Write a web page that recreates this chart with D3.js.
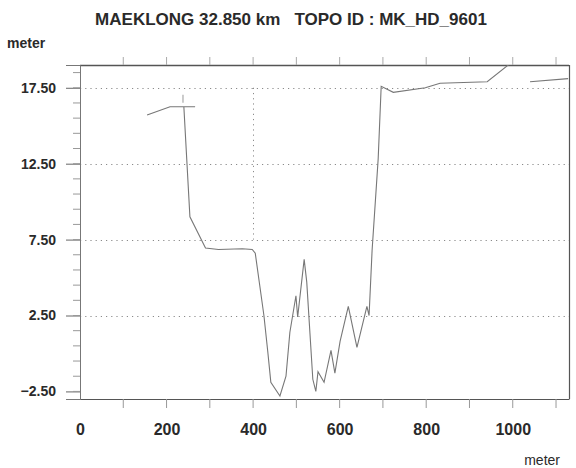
<!DOCTYPE html>
<html>
<head>
<meta charset="utf-8">
<script src="https://cdn.jsdelivr.net/npm/d3@7"></script>
<style>
  html, body { margin: 0; padding: 0; background: #fff; }
  svg { display: block; }
  text { font-family: "Liberation Sans", Arial, sans-serif; fill: #2a2a2a; }
</style>
</head>
<body>
<svg id="chart" width="576" height="468"></svg>
<script>
// ---- data ----
const titleText = "MAEKLONG 32.850 km   TOPO ID : MK_HD_9601";
const yAxisTitle = "meter";
const xAxisTitle = "meter";

// distance along section (m)
const distance = [155, 208, 266, 240, 254, 290, 320, 375, 398, 405, 425, 434, 441, 462, 476, 485, 499, 503,
  518, 524, 538, 545, 550, 564, 580, 589, 601, 620, 640, 663, 668, 675, 689, 696, 724, 798, 832, 941, 994,
  1015, 1040, 1128];
// bed elevation (m); null = gap in the survey line
const elevation = [15.7, 16.25, 16.25, 16.25, 9.0, 6.95, 6.85, 6.9, 6.85, 6.6, 2.5, 0.1, -1.9, -2.8, -1.5, 1.4, 3.8, 2.4,
  6.2, 4.7, -1.7, -2.5, -1.2, -1.9, 0.2, -1.3, 0.8, 3.1, 0.4, 3.1, 2.5, 6.8, 12.8, 17.6, 17.2, 17.5, 17.8, 17.9, 19.1,
  null, 17.9, 18.1];

const xLabelTicks = [0, 200, 400, 600, 800, 1000];
const xMinorTicks = [100, 200, 300, 400, 500, 600, 700, 800, 900, 1000, 1100];
const yLabelTicks = [-2.5, 2.5, 7.5, 12.5, 17.5];
const yMinorTicks = [-2.5, -1.5, -0.5, 0.5, 1.5, 2.5, 3.5, 4.5, 5.5, 6.5, 7.5, 8.5, 9.5, 10.5, 11.5, 12.5,
  13.5, 14.5, 15.5, 16.5, 17.5, 18.5];

// ---- layout ----
const svg = d3.select("#chart");
const L = 80, R = 569, T = 65, B = 399;
const x = d3.scaleLinear().domain([0, 1130]).range([L, R]);
const y = d3.scaleLinear().domain([-3, 19]).range([B, T]);

// grid (dotted)
const grid = svg.append("g").attr("stroke", "#8a8a8a").attr("stroke-width", 1)
  .attr("stroke-dasharray", "1.2,4");
grid.selectAll("line.h").data(yLabelTicks.filter(d => d > -2.5)).join("line")
  .attr("x1", L).attr("x2", R).attr("y1", d => Math.round(y(d)) + 0.5).attr("y2", d => Math.round(y(d)) + 0.5);
grid.selectAll("line.v").data([400]).join("line")
  .attr("x1", d => Math.round(x(d)) + 0.5).attr("x2", d => Math.round(x(d)) + 0.5)
  .attr("y1", y(17.5)).attr("y2", y(7.5));

// frame
const frame = svg.append("g").attr("stroke", "#555").attr("fill", "none");
frame.append("line").attr("x1", L).attr("x2", R).attr("y1", T + 0.5).attr("y2", T + 0.5).attr("stroke-width", 1.3);
frame.append("line").attr("x1", R + 0.5).attr("x2", R + 0.5).attr("y1", T).attr("y2", B).attr("stroke-width", 1.2);

// left axis
const yAxis = d3.axisLeft(y).tickValues(yLabelTicks).tickFormat(d3.format(".2f")).tickSize(14).tickPadding(10);
const gy = svg.append("g").attr("transform", `translate(${L},0)`).call(yAxis);
gy.select(".domain").attr("stroke", "#777");
gy.selectAll(".tick line").attr("stroke", "#666");
gy.selectAll("text").attr("font-size", 14).attr("font-weight", "bold").attr("fill", "#2a2a2a");
svg.append("g").selectAll("line").data(yMinorTicks).join("line")
  .attr("x1", L - 7).attr("x2", L).attr("y1", d => y(d)).attr("y2", d => y(d))
  .attr("stroke", "#999");

// bottom axis
const xAxis = d3.axisBottom(x).tickValues(xLabelTicks).tickFormat(d3.format("d")).tickSize(0).tickPadding(25);
const gx = svg.append("g").attr("transform", `translate(0,${B})`).call(xAxis);
gx.select(".domain").attr("stroke", "#555").attr("stroke-width", 1.2);
gx.selectAll("text").attr("font-size", 16).attr("font-weight", "bold").attr("fill", "#2a2a2a");
svg.append("g").selectAll("line").data(xMinorTicks).join("line")
  .attr("x1", d => x(d)).attr("x2", d => x(d)).attr("y1", B).attr("y2", B + 9)
  .attr("stroke", "#999");
// top ticks
svg.append("g").selectAll("line").data(xMinorTicks).join("line")
  .attr("x1", d => x(d)).attr("x2", d => x(d)).attr("y1", T).attr("y2", T - 8)
  .attr("stroke", "#aaa");

// profile
const pts = distance.map((d, i) => ({ d, e: elevation[i] }));
svg.append("defs").append("clipPath").attr("id", "clip")
  .append("rect").attr("x", L).attr("y", T).attr("width", R - L).attr("height", B - T);
const line = d3.line().defined(p => p.e !== null).x(p => x(p.d)).y(p => y(p.e));
svg.append("path").datum(pts).attr("d", line).attr("clip-path", "url(#clip)")
  .attr("fill", "none").attr("stroke", "#777").attr("stroke-width", 1.1);
// bank marker
svg.append("line").attr("x1", x(238)).attr("x2", x(238)).attr("y1", y(16.25) - 12).attr("y2", y(16.25) - 4)
  .attr("stroke", "#999");

// titles
svg.append("text").attr("x", 291).attr("y", 25).attr("text-anchor", "middle")
  .attr("font-size", 17).attr("font-weight", "bold").attr("fill", "#333")
  .style("white-space", "pre").text(titleText);
svg.append("text").attr("x", 7).attr("y", 48).attr("font-size", 14).attr("font-weight", "bold").text(yAxisTitle);
svg.append("text").attr("x", 560).attr("y", 465).attr("text-anchor", "end")
  .attr("font-size", 14).attr("fill", "#555").text(xAxisTitle);
</script>
</body>
</html>
